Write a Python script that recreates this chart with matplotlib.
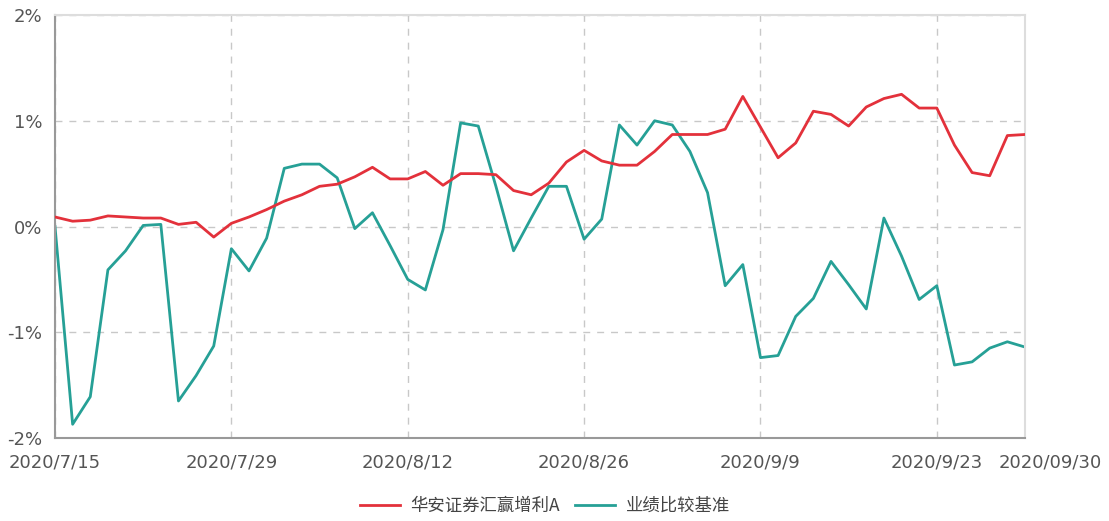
import matplotlib
matplotlib.use("Agg")
import matplotlib.pyplot as plt
from matplotlib.transforms import ScaledTranslation

plt.rcParams['font.family'] = ['Noto Sans CJK SC', 'DejaVu Sans']

series_names = ["华安证券汇赢增利A", "业绩比较基准"]
fund = [0.09, 0.05, 0.06, 0.10, 0.09, 0.08, 0.08, 0.02, 0.04, -0.10,
        0.03, 0.09, 0.16, 0.24, 0.30, 0.38, 0.40, 0.47, 0.56, 0.45,
        0.45, 0.52, 0.39, 0.50, 0.50, 0.49, 0.34, 0.30, 0.41, 0.61,
        0.72, 0.62, 0.58, 0.58, 0.71, 0.87, 0.87, 0.87, 0.92, 1.23,
        0.94, 0.65, 0.79, 1.09, 1.06, 0.95, 1.13, 1.21, 1.25, 1.12,
        1.12, 0.77, 0.51, 0.48, 0.86, 0.87]
bench = [0.00, -1.87, -1.61, -0.41, -0.23, 0.01, 0.02, -1.65, -1.41, -1.13,
         -0.21, -0.42, -0.11, 0.55, 0.59, 0.59, 0.46, -0.02, 0.13, -0.18,
         -0.50, -0.60, -0.03, 0.98, 0.95, 0.38, -0.23, 0.08, 0.38, 0.38,
         -0.12, 0.07, 0.96, 0.77, 1.00, 0.96, 0.71, 0.32, -0.56, -0.36,
         -1.24, -1.22, -0.85, -0.68, -0.33, -0.55, -0.78, 0.08, -0.28, -0.69,
         -0.56, -1.31, -1.28, -1.15, -1.09, -1.14]
tick_idx = [0, 10, 20, 30, 40, 50, 55]
tick_labels = ["2020/7/15", "2020/7/29", "2020/8/12", "2020/8/26", "2020/9/9", "2020/9/23", "2020/09/30"]
y_ticks = [-2, -1, 0, 1, 2]
y_labels = ["-2%", "-1%", "0%", "1%", "2%"]

fig = plt.figure(figsize=(11.09, 5.21), dpi=100)
ax = fig.add_axes([55/1109, 1-438/521, (1025-55)/1109, (438-15)/521])

x = list(range(len(fund)))
ax.plot(x, fund, color='#e3313b', lw=2.0, label=series_names[0], zorder=3)
ax.plot(x, bench, color='#26a096', lw=2.0, label=series_names[1], zorder=2)

ax.set_xlim(0, len(fund) - 1)
ax.set_ylim(-2, 2)
ax.set_xticks(tick_idx)
ax.set_xticklabels(tick_labels, family=['DejaVu Sans'])
ax.set_yticks(y_ticks)
ax.set_yticklabels(y_labels, family=['DejaVu Sans'])
ax.tick_params(axis='both', length=0, labelsize=13, labelcolor='#555555')
ax.tick_params(axis='x', pad=11)
ax.tick_params(axis='y', pad=9)

lbls = ax.get_xticklabels()
lbls[-1].set_transform(lbls[-1].get_transform() + ScaledTranslation(0.25, 0, fig.dpi_scale_trans))

ax.grid(True, linestyle=(0, (5, 5)), color='#c8c8c8', lw=1.0)
for s in ['left', 'bottom']:
    ax.spines[s].set_color('#999999')
    ax.spines[s].set_linewidth(1.5)
for s in ['top', 'right']:
    ax.spines[s].set_color('#dddddd')
    ax.spines[s].set_linewidth(1.5)

ax.legend(loc='center', bbox_to_anchor=(0.505, -0.16), ncol=2, frameon=False,
          fontsize=12.5, handlelength=2.3, handletextpad=0.6, columnspacing=0.9,
          labelcolor='#444444')

fig.savefig("out.png", dpi=100)
